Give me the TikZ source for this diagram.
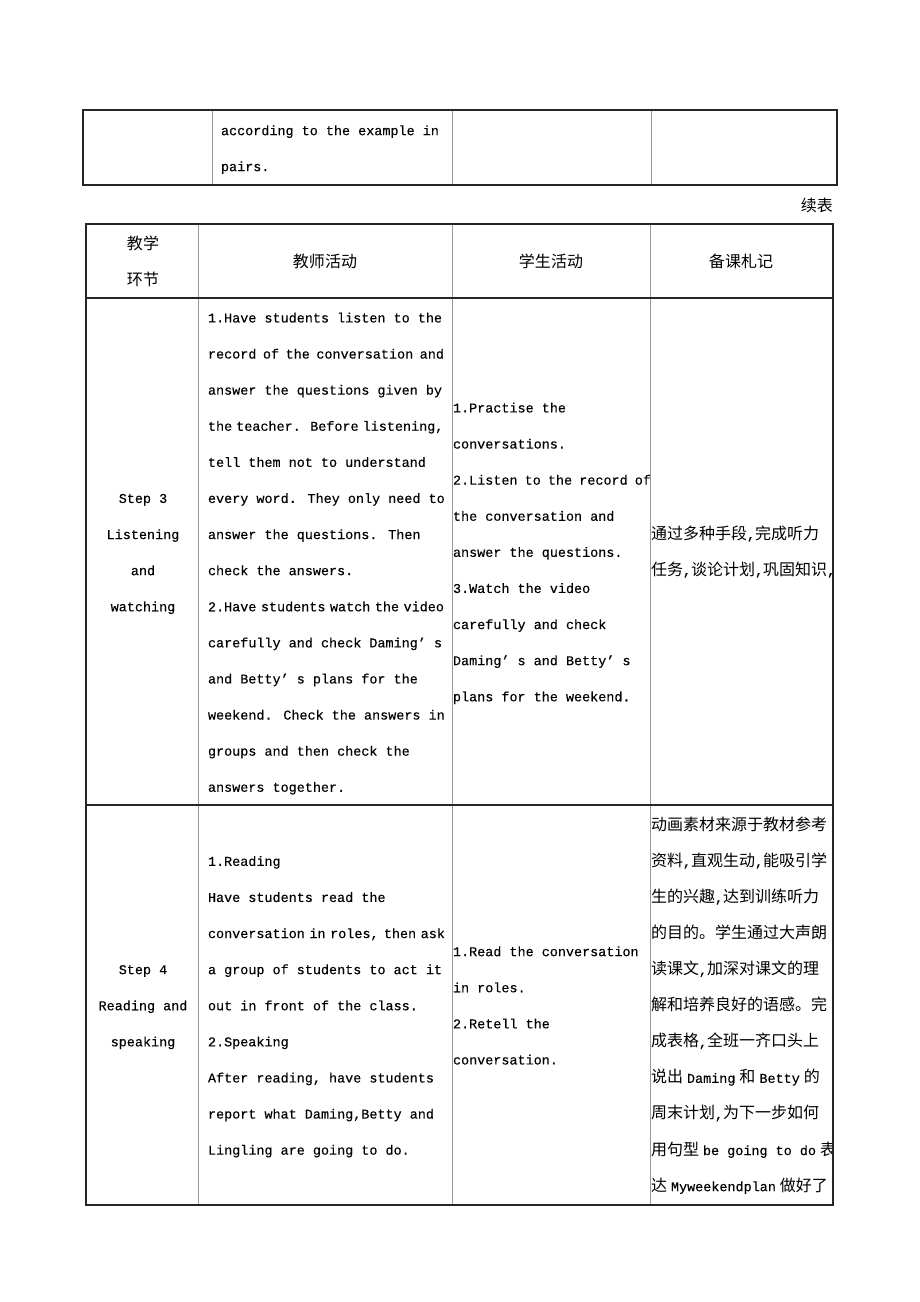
\documentclass[tikz,border=0pt]{standalone}
\usepackage{fontspec}
\setmainfont[FakeBold=0.25]{Liberation Mono}
\newfontfamily\cjk[Scale=1.19]{Noto Sans CJK SC}
\newcommand\Jb[2]{\makebox[#1][s]{\spaceskip=0.6em plus 1fil minus 0.3em\relax #2}}
\newcommand\Ln[4]{\node[txt] (#1) at (#2,#3) {#4};}
\newcommand\cg{\hspace{4pt}}
\begin{document}
\begin{tikzpicture}[x=1pt,y=-1pt,font=\fontsize{13.45}{16}\selectfont,
  txt/.style={anchor=mid west,inner sep=0pt,outer sep=0pt,yshift=-1.5pt},
  ctr/.style={anchor=mid,inner sep=0pt,outer sep=0pt,yshift=-1.5pt},
  cc/.style={anchor=center,inner sep=0pt,outer sep=0pt},
  outerbox/.style={line width=2.5pt,draw=black!85},
  hrule/.style={line width=1.4pt,draw=black!85},
  vrule/.style={line width=0.8pt,draw=black!40}]
\useasboundingbox (0,0) rectangle (920,1302);
\fill[white] (0,0) rectangle (920,1302);

% ---------- top table fragment ----------
\Ln{ta}{221}{131}{according to the example in}
\Ln{tb}{221}{167}{pairs.}
\draw[vrule] (212.5,110) -- (212.5,185);
\draw[vrule] (452,110) -- (452,185);
\draw[vrule] (651,110) -- (651,185);
\draw[outerbox] (83,110) rectangle (837,185);

\node[anchor=east,inner sep=0pt] (xubiao) at (833,205) {\cjk 续表};

% ---------- header ----------
\node[cc] (h1a) at (143,243) {\cjk 教学};
\node[cc] (h1b) at (143,279) {\cjk 环节};
\node[cc] (h2) at (325,261) {\cjk 教师活动};
\node[cc] (h3) at (551,261) {\cjk 学生活动};
\node[cc] (h4) at (741,261) {\cjk 备课札记};

% ---------- Step 3 ----------
\node[ctr] (s3a) at (143,498.8) {Step 3};
\node[ctr] (s3b) at (143,534.9) {Listening};
\node[ctr] (s3c) at (143,571.0) {and};
\node[ctr] (s3d) at (143,607.1) {watching};

\Ln{t301}{208}{318.3}{1.Have students listen to the}
\Ln{t302}{208}{354.4}{\Jb{236pt}{record of the conversation and}}
\Ln{t303}{208}{390.5}{answer the questions given by}
\Ln{t304}{208}{426.6}{\Jb{232pt}{the teacher. Before listening,}}
\Ln{t305}{208}{462.7}{tell them not to understand}
\Ln{t306}{208}{498.8}{every word. They only need to}
\Ln{t307}{208}{534.9}{answer the questions. Then}
\Ln{t308}{208}{571.0}{check the answers.}
\Ln{t309}{208}{607.1}{\Jb{236pt}{2.Have students watch the video}}
\Ln{t310}{208}{643.2}{carefully and check Daming’ s}
\Ln{t311}{208}{679.3}{and Betty’ s plans for the}
\Ln{t312}{208}{715.4}{weekend. Check the answers in}
\Ln{t313}{208}{751.5}{groups and then check the}
\Ln{t314}{208}{787.6}{answers together.}

\Ln{u301}{453}{408.3}{1.Practise the}
\Ln{u302}{453}{444.4}{conversations.}
\Ln{u303}{453}{480.5}{\Jb{198pt}{2.Listen to the record of}}
\Ln{u304}{453}{516.6}{the conversation and}
\Ln{u305}{453}{552.7}{answer the questions.}
\Ln{u306}{453}{588.8}{3.Watch the video}
\Ln{u307}{453}{624.9}{carefully and check}
\Ln{u308}{453}{661.0}{Daming’ s and Betty’ s}
\Ln{u309}{453}{697.1}{plans for the weekend.}

\begin{scope}
\clip (650,298) rectangle (833,805);
\Ln{n301}{651}{535}{{\cjk 通过多种手段},{\cjk 完成听力}}
\Ln{n302}{651}{571}{{\cjk 任务},{\cjk 谈论计划},{\cjk 巩固知识},}
\end{scope}

% ---------- Step 4 ----------
\node[ctr] (s4a) at (143,970.0) {Step 4};
\node[ctr] (s4b) at (143,1006.1) {Reading and};
\node[ctr] (s4c) at (143,1042.2) {speaking};

\Ln{t401}{208}{861.7}{1.Reading}
\Ln{t402}{208}{897.8}{Have students read the}
\Ln{t403}{208}{933.9}{\Jb{237pt}{conversation in roles, then ask}}
\Ln{t404}{208}{970.0}{a group of students to act it}
\Ln{t405}{208}{1006.1}{out in front of the class.}
\Ln{t406}{208}{1042.2}{2.Speaking}
\Ln{t407}{208}{1078.3}{After reading, have students}
\Ln{t408}{208}{1114.4}{report what Daming,Betty and}
\Ln{t409}{208}{1150.5}{Lingling are going to do.}

\Ln{u401}{453}{952}{1.Read the conversation}
\Ln{u402}{453}{988.1}{in roles.}
\Ln{u403}{453}{1024.2}{2.Retell the}
\Ln{u404}{453}{1060.3}{conversation.}

\begin{scope}
\clip (650,805) rectangle (833,1205);
\Ln{n401}{651}{826}{{\cjk 动画素材来源于教材参考}}
\Ln{n402}{651}{862.1}{{\cjk 资料},{\cjk 直观生动},{\cjk 能吸引学}}
\Ln{n403}{651}{898.2}{{\cjk 生的兴趣},{\cjk 达到训练听力}}
\Ln{n404}{651}{934.3}{{\cjk 的目的。学生通过大声朗}}
\Ln{n405}{651}{970.4}{{\cjk 读课文},{\cjk 加深对课文的理}}
\Ln{n406}{651}{1006.5}{{\cjk 解和培养良好的语感。完}}
\Ln{n407}{651}{1042.6}{{\cjk 成表格},{\cjk 全班一齐口头上}}
\Ln{n408}{651}{1078.7}{{\cjk 说出}\cg Daming\cg{\cjk 和}\cg Betty\cg{\cjk 的}}
\Ln{n409}{651}{1114.8}{{\cjk 周末计划},{\cjk 为下一步如何}}
\Ln{n410}{651}{1150.9}{{\cjk 用句型}\cg be going to do\cg{\cjk 表}}
\Ln{n411}{651}{1187}{{\cjk 达}\cg Myweekendplan\cg{\cjk 做好了}}
\end{scope}

% ---------- rules of the second table ----------
\draw[vrule] (198.5,224) -- (198.5,1205);
\draw[vrule] (452,224) -- (452,1205);
\draw[vrule] (650,224) -- (650,1205);
\draw[hrule] (86,298) -- (833,298);
\draw[hrule] (86,805) -- (833,805);
\draw[outerbox] (86,224) rectangle (833,1205);
\end{tikzpicture}
\end{document}
